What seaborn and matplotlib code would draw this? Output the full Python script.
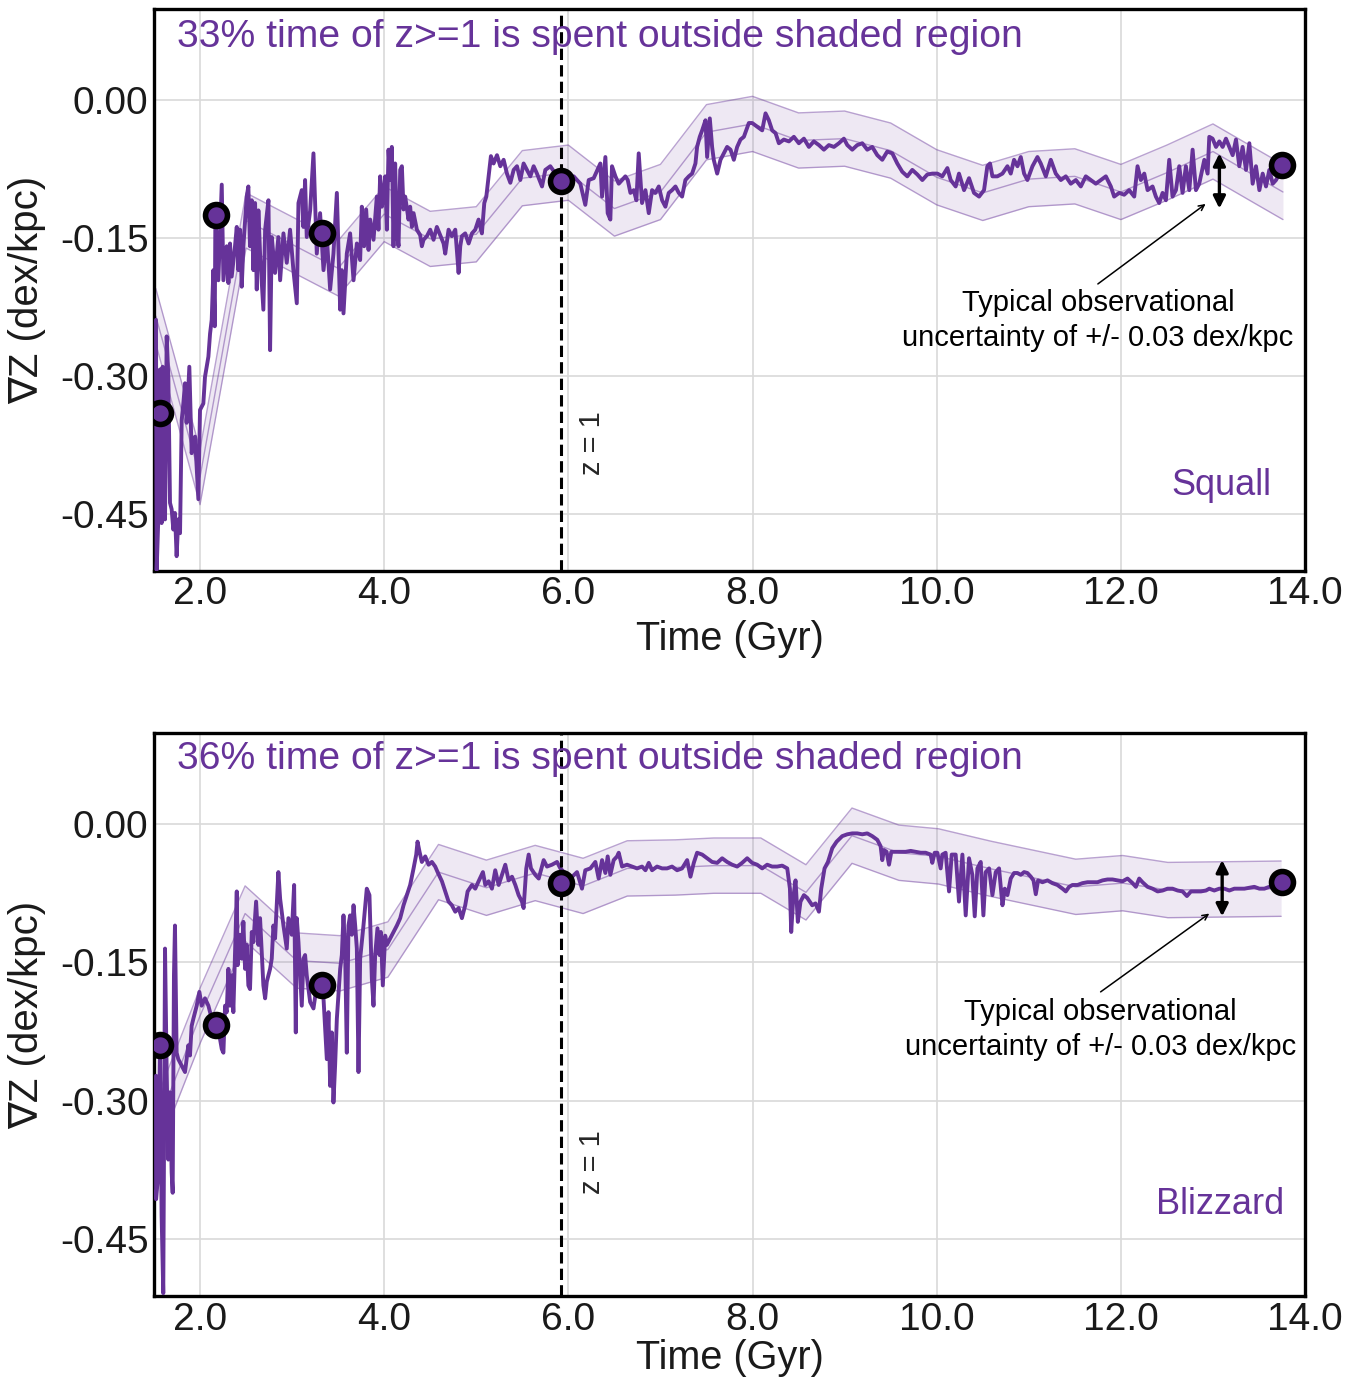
import numpy as np
import matplotlib
matplotlib.use("Agg")
import matplotlib.pyplot as plt
import seaborn as sns

# ---------------- data ----------------
# Squall (top panel): gradient history
squall_time = [
    1.522, 1.529, 1.547, 1.565, 1.583, 1.594, 1.620, 1.638, 1.656, 1.674, 1.692, 1.710, 1.728,
    1.746, 1.764, 1.783, 1.801, 1.819, 1.837, 1.855, 1.884, 1.909, 1.946, 1.982, 2.000, 2.036,
    2.054, 2.091, 2.109, 2.127, 2.145, 2.160, 2.167, 2.199, 2.236, 2.254, 2.290, 2.308, 2.326,
    2.344, 2.380, 2.399, 2.417, 2.435, 2.453, 2.471, 2.507, 2.525, 2.543, 2.562, 2.580, 2.598,
    2.616, 2.634, 2.652, 2.688, 2.707, 2.743, 2.761, 2.779, 2.815, 2.851, 2.870, 2.906, 2.942,
    2.978, 3.014, 3.051, 3.069, 3.105, 3.123, 3.141, 3.159, 3.196, 3.232, 3.268, 3.304, 3.341,
    3.377, 3.413, 3.449, 3.486, 3.522, 3.540, 3.558, 3.594, 3.630, 3.667, 3.703,
    3.739, 3.757, 3.782, 3.804, 3.830, 3.848, 3.884, 3.920, 3.938, 3.956, 3.975, 3.993, 4.011,
    4.029, 4.047, 4.065, 4.083, 4.101, 4.119, 4.138, 4.156, 4.174, 4.192, 4.210, 4.228, 4.264,
    4.282, 4.301, 4.319, 4.355, 4.391, 4.409, 4.427, 4.464, 4.500, 4.536, 4.572, 4.609, 4.645,
    4.663, 4.699, 4.735, 4.772, 4.808, 4.826, 4.844, 4.880, 4.917, 4.953, 4.989, 5.025, 5.043,
    5.061, 5.087, 5.109, 5.134, 5.159, 5.188, 5.225, 5.261, 5.297, 5.333, 5.370, 5.406, 5.442,
    5.478, 5.514, 5.551, 5.587, 5.623, 5.659, 5.714, 5.750, 5.804, 5.859, 5.913,
    6.000, 6.058, 6.130, 6.184, 6.221, 6.275, 6.347, 6.366, 6.402, 6.427, 6.456, 6.474, 6.511,
    6.547, 6.583, 6.619, 6.645, 6.674, 6.710, 6.739, 6.764, 6.800, 6.837, 6.873, 6.909, 6.945,
    6.982, 7.018, 7.054, 7.090, 7.126, 7.163, 7.199, 7.235, 7.271, 7.308, 7.344, 7.380, 7.398,
    7.427, 7.453, 7.489, 7.507, 7.536, 7.561, 7.579, 7.616, 7.652, 7.688, 7.724, 7.761, 7.797,
    7.833, 7.869, 7.906, 7.960, 7.996, 8.050, 8.105, 8.141, 8.177, 8.213, 8.250, 8.286, 8.340,
    8.395, 8.449, 8.503, 8.558, 8.612, 8.666, 8.721, 8.775, 8.829, 8.884, 8.938, 8.992, 9.029,
    9.083, 9.137, 9.192, 9.246, 9.300, 9.355, 9.409, 9.463, 9.518, 9.572, 9.626, 9.681, 9.735,
    9.790, 9.844, 9.898, 9.953, 10.007, 10.061, 10.116, 10.152, 10.206, 10.242, 10.297, 10.351,
    10.405, 10.460, 10.514, 10.550, 10.579, 10.605, 10.659,
    10.714, 10.768, 10.804, 10.840, 10.877, 10.913, 10.949, 10.985, 11.040, 11.094, 11.130,
    11.185, 11.239, 11.293, 11.348, 11.402, 11.456, 11.511, 11.565, 11.619, 11.674, 11.728,
    11.782, 11.837, 11.891, 11.927, 11.982, 12.036, 12.090, 12.145, 12.181, 12.217, 12.254,
    12.290, 12.344, 12.380, 12.416, 12.453, 12.489, 12.525, 12.561, 12.598, 12.634, 12.670,
    12.706, 12.743, 12.779, 12.815, 12.851, 12.906, 12.942, 12.960, 12.996, 13.033, 13.069,
    13.105, 13.141, 13.178, 13.214, 13.250, 13.286, 13.322, 13.359, 13.395, 13.431, 13.467,
    13.504, 13.540, 13.576, 13.612, 13.649, 13.685, 13.721, 13.757,
]
squall_grad = [
    -0.239, -0.511, -0.456, -0.293, -0.460, -0.290, -0.456, -0.257, -0.301, -0.438, -0.445, -0.467, -0.449,
    -0.496, -0.456, -0.471, -0.348, -0.330, -0.308, -0.351, -0.290, -0.384, -0.366, -0.434, -0.337, -0.330,
    -0.301, -0.279, -0.254, -0.239, -0.185, -0.246, -0.123, -0.196, -0.092, -0.196, -0.159, -0.199, -0.156,
    -0.192, -0.159, -0.138, -0.185, -0.141, -0.203, -0.159, -0.105, -0.094, -0.159, -0.109, -0.185, -0.112,
    -0.206, -0.120, -0.167, -0.228, -0.141, -0.109, -0.272, -0.149, -0.188, -0.149, -0.196, -0.145, -0.177,
    -0.141, -0.185, -0.221, -0.112, -0.098, -0.138, -0.087, -0.149, -0.120, -0.058, -0.167, -0.123, -0.185,
    -0.149, -0.206, -0.167, -0.101, -0.228, -0.185, -0.232, -0.167, -0.145, -0.196, -0.156,
    -0.174, -0.116, -0.159, -0.119, -0.163, -0.130, -0.152, -0.105, -0.141, -0.083, -0.116, -0.101, -0.083,
    -0.141, -0.054, -0.087, -0.051, -0.159, -0.069, -0.145, -0.159, -0.076, -0.072, -0.119, -0.105, -0.130,
    -0.116, -0.138, -0.123, -0.141, -0.147, -0.159, -0.152, -0.148, -0.141, -0.152, -0.138, -0.147, -0.156,
    -0.167, -0.141, -0.148, -0.141, -0.188, -0.159, -0.148, -0.145, -0.156, -0.145, -0.141, -0.130, -0.138,
    -0.145, -0.112, -0.105, -0.083, -0.061, -0.069, -0.060, -0.072, -0.065, -0.080, -0.090, -0.076, -0.072,
    -0.087, -0.069, -0.076, -0.083, -0.072, -0.080, -0.094, -0.076, -0.072, -0.080, -0.087,
    -0.087, -0.083, -0.091, -0.114, -0.087, -0.085, -0.069, -0.105, -0.062, -0.123, -0.130, -0.072, -0.083,
    -0.091, -0.087, -0.083, -0.087, -0.101, -0.098, -0.109, -0.058, -0.112, -0.098, -0.123, -0.098, -0.101,
    -0.094, -0.109, -0.116, -0.101, -0.098, -0.094, -0.101, -0.105, -0.087, -0.083, -0.080, -0.069, -0.051,
    -0.040, -0.033, -0.022, -0.062, -0.020, -0.051, -0.065, -0.080, -0.065, -0.058, -0.051, -0.054, -0.065,
    -0.051, -0.043, -0.040, -0.025, -0.025, -0.029, -0.033, -0.0145, -0.022, -0.033, -0.036, -0.047, -0.043,
    -0.045, -0.040, -0.047, -0.042, -0.051, -0.045, -0.049, -0.054, -0.049, -0.051, -0.047, -0.042, -0.049,
    -0.054, -0.049, -0.047, -0.054, -0.051, -0.060, -0.065, -0.056, -0.058, -0.069, -0.078, -0.083, -0.076,
    -0.081, -0.087, -0.081, -0.080, -0.080, -0.083, -0.074, -0.087, -0.094, -0.080, -0.098, -0.085,
    -0.101, -0.105, -0.098, -0.072, -0.069, -0.083, -0.083,
    -0.080, -0.072, -0.080, -0.065, -0.072, -0.062, -0.080, -0.087, -0.072, -0.062, -0.069,
    -0.083, -0.065, -0.080, -0.087, -0.083, -0.091, -0.087, -0.094, -0.083, -0.087, -0.091,
    -0.087, -0.083, -0.094, -0.105, -0.101, -0.103, -0.098, -0.105, -0.072, -0.087, -0.080,
    -0.098, -0.094, -0.105, -0.112, -0.101, -0.109, -0.065, -0.105, -0.098, -0.072, -0.101,
    -0.072, -0.098, -0.054, -0.098, -0.091, -0.065, -0.080, -0.040, -0.042, -0.051, -0.045,
    -0.051, -0.042, -0.051, -0.060, -0.043, -0.072, -0.051, -0.076, -0.047, -0.091, -0.072,
    -0.098, -0.080, -0.094, -0.076, -0.091, -0.087, -0.080, -0.072,
]
squall_band_time = [1.52, 2.0, 2.5, 3.0, 3.5, 4.0, 4.5, 5.0, 5.5, 6.0, 6.5, 7.0, 7.5, 8.0,
                    8.5, 9.0, 9.5, 10.0, 10.5, 11.0, 11.5, 12.0, 12.5, 13.0, 13.5, 13.76]
squall_band_mid = [-0.235, -0.410, -0.131, -0.157, -0.183, -0.124, -0.151, -0.146, -0.085, -0.079,
                   -0.118, -0.100, -0.035, -0.026, -0.044, -0.042, -0.055, -0.084, -0.101, -0.086,
                   -0.083, -0.100, -0.079, -0.056, -0.085, -0.100]
squall_marker_time = [1.565, 2.174, 3.320, 5.920, 13.750]
squall_marker_grad = [-0.340, -0.125, -0.145, -0.088, -0.071]

# Blizzard (bottom panel): gradient history
blizzard_time = [
    1.522, 1.523, 1.547, 1.565, 1.583, 1.601, 1.620, 1.638, 1.656, 1.674, 1.692, 1.703, 1.717,
    1.728, 1.746, 1.764, 1.801, 1.837, 1.873, 1.891, 1.909, 1.928, 1.964, 1.993, 2.018, 2.054,
    2.091, 2.127, 2.163, 2.217, 2.236, 2.254, 2.272, 2.290, 2.308, 2.326, 2.344, 2.362, 2.380,
    2.399, 2.409, 2.435, 2.453, 2.471, 2.489, 2.507, 2.525, 2.543, 2.562, 2.580, 2.609, 2.634,
    2.652, 2.688, 2.707, 2.725, 2.761, 2.779, 2.797, 2.815, 2.851, 2.870, 2.906, 2.942, 2.960,
    2.996, 3.022, 3.040, 3.051, 3.069, 3.105, 3.123, 3.141, 3.159, 3.196, 3.232, 3.268, 3.341,
    3.377, 3.395, 3.413, 3.431, 3.449, 3.467, 3.486, 3.522, 3.540, 3.558, 3.576, 3.594, 3.612,
    3.630, 3.649, 3.667, 3.685, 3.703, 3.721, 3.739,
    3.775, 3.811, 3.840, 3.866, 3.884, 3.902, 3.927, 3.949, 3.964, 3.985, 4.011, 4.029, 4.065,
    4.101, 4.138, 4.174, 4.210, 4.246, 4.282, 4.319, 4.348, 4.362, 4.384, 4.409, 4.446, 4.482,
    4.518, 4.554, 4.580, 4.627, 4.663, 4.699, 4.735, 4.772, 4.808, 4.844, 4.880, 4.906, 4.953,
    4.989, 5.025, 5.072, 5.098, 5.134, 5.170, 5.206, 5.243, 5.279, 5.315, 5.351, 5.388, 5.424,
    5.460, 5.496, 5.514, 5.543, 5.569, 5.594, 5.641, 5.678, 5.732, 5.768, 5.822, 5.877, 5.913,
    6.021, 6.094, 6.148, 6.184, 6.239, 6.293, 6.329, 6.366, 6.402, 6.427, 6.456, 6.492, 6.529,
    6.547, 6.583, 6.637, 6.692, 6.746, 6.800, 6.837, 6.873, 6.909, 6.963, 7.018, 7.072, 7.126,
    7.181, 7.235, 7.290, 7.326, 7.362, 7.398, 7.453, 7.507, 7.561, 7.616, 7.670, 7.724, 7.779,
    7.833, 7.887, 7.942, 7.996, 8.050, 8.105, 8.159, 8.213, 8.268, 8.322, 8.377, 8.406, 8.420,
    8.442, 8.467, 8.492, 8.521, 8.558, 8.594, 8.648, 8.684, 8.721, 8.746, 8.782, 8.819, 8.866,
    8.913, 8.974, 9.029, 9.083, 9.137, 9.192, 9.246, 9.300, 9.355, 9.391, 9.409, 9.427, 9.456,
    9.482, 9.507, 9.554, 9.608, 9.663, 9.717, 9.771, 9.826, 9.880, 9.934, 9.952, 9.978, 10.007,
    10.043, 10.061, 10.097, 10.134, 10.163, 10.206, 10.242, 10.279, 10.315, 10.351, 10.387,
    10.413, 10.442, 10.478, 10.507, 10.532, 10.569, 10.605, 10.641, 10.677,
    10.714, 10.739, 10.768, 10.804, 10.840, 10.877, 10.913, 10.949, 10.985, 11.022, 11.051,
    11.076, 11.101, 11.148, 11.203, 11.257, 11.311, 11.366, 11.402, 11.438, 11.474, 11.529,
    11.583, 11.638, 11.692, 11.746, 11.801, 11.855, 11.909, 11.964, 12.018, 12.072, 12.127,
    12.163, 12.199, 12.235, 12.290, 12.344, 12.399, 12.453, 12.507, 12.561, 12.616, 12.670,
    12.717, 12.761, 12.815, 12.869, 12.924, 12.960, 13.014, 13.069, 13.123, 13.178, 13.232,
    13.286, 13.341, 13.395, 13.449, 13.504, 13.558, 13.612, 13.667, 13.721,
]
blizzard_grad = [
    -0.273, -0.407, -0.378, -0.240, -0.425, -0.509, -0.135, -0.269, -0.364, -0.291, -0.378, -0.400, -0.164,
    -0.110, -0.248, -0.255, -0.262, -0.269, -0.240, -0.251, -0.219, -0.211, -0.197, -0.182, -0.197, -0.189,
    -0.197, -0.211, -0.219, -0.233, -0.244, -0.248, -0.197, -0.204, -0.157, -0.197, -0.164, -0.204, -0.142,
    -0.073, -0.153, -0.120, -0.146, -0.106, -0.157, -0.131, -0.175, -0.179, -0.117, -0.128, -0.084, -0.131,
    -0.102, -0.175, -0.189, -0.171, -0.157, -0.146, -0.110, -0.124, -0.052, -0.081, -0.110, -0.135, -0.102,
    -0.120, -0.066, -0.226, -0.102, -0.128, -0.197, -0.146, -0.142, -0.164, -0.193, -0.200, -0.175, -0.189,
    -0.255, -0.204, -0.284, -0.226, -0.302, -0.262, -0.211, -0.157, -0.142, -0.099, -0.139, -0.248, -0.110,
    -0.099, -0.120, -0.088, -0.110, -0.135, -0.269, -0.146,
    -0.110, -0.070, -0.077, -0.168, -0.197, -0.142, -0.113, -0.142, -0.117, -0.175, -0.121, -0.131, -0.124,
    -0.117, -0.110, -0.102, -0.088, -0.077, -0.066, -0.048, -0.033, -0.019, -0.030, -0.041, -0.035, -0.044,
    -0.041, -0.046, -0.052, -0.062, -0.073, -0.084, -0.088, -0.095, -0.091, -0.102, -0.088, -0.073, -0.066,
    -0.070, -0.062, -0.052, -0.066, -0.062, -0.070, -0.050, -0.066, -0.055, -0.044, -0.061, -0.057, -0.066,
    -0.077, -0.084, -0.091, -0.048, -0.033, -0.048, -0.055, -0.059, -0.039, -0.046, -0.044, -0.041, -0.048,
    -0.059, -0.052, -0.070, -0.050, -0.048, -0.041, -0.059, -0.039, -0.053, -0.035, -0.055, -0.039, -0.035,
    -0.031, -0.046, -0.044, -0.046, -0.048, -0.046, -0.050, -0.042, -0.050, -0.046, -0.048, -0.048, -0.046,
    -0.050, -0.048, -0.039, -0.057, -0.042, -0.031, -0.033, -0.037, -0.041, -0.042, -0.037, -0.041, -0.044,
    -0.046, -0.042, -0.037, -0.042, -0.044, -0.048, -0.044, -0.046, -0.046, -0.045, -0.048, -0.070, -0.117,
    -0.080, -0.061, -0.106, -0.084, -0.077, -0.080, -0.088, -0.086, -0.095, -0.070, -0.048, -0.041, -0.026,
    -0.019, -0.013, -0.011, -0.010, -0.010, -0.011, -0.010, -0.013, -0.017, -0.024, -0.039, -0.028, -0.030,
    -0.044, -0.030, -0.030, -0.030, -0.030, -0.029, -0.030, -0.031, -0.031, -0.033, -0.042, -0.031, -0.031,
    -0.048, -0.033, -0.031, -0.073, -0.033, -0.033, -0.084, -0.033, -0.099, -0.037, -0.055,
    -0.100, -0.048, -0.041, -0.099, -0.052, -0.048, -0.077, -0.052, -0.048,
    -0.088, -0.070, -0.077, -0.059, -0.053, -0.053, -0.055, -0.052, -0.053, -0.057, -0.061,
    -0.076, -0.061, -0.063, -0.061, -0.064, -0.066, -0.070, -0.073, -0.068, -0.066, -0.066,
    -0.064, -0.063, -0.063, -0.063, -0.061, -0.060, -0.060, -0.061, -0.062, -0.059, -0.064,
    -0.068, -0.059, -0.063, -0.068, -0.070, -0.073, -0.072, -0.070, -0.070, -0.072, -0.073,
    -0.078, -0.073, -0.073, -0.073, -0.072, -0.070, -0.072, -0.070, -0.070, -0.072, -0.070,
    -0.070, -0.070, -0.069, -0.068, -0.070, -0.070, -0.068, -0.065, -0.064,
]
blizzard_band_time = [1.52, 2.0, 2.49, 3.05, 3.52, 4.04, 4.59, 5.11, 5.64, 6.16, 6.64, 7.16,
                      7.58, 8.09, 8.58, 9.08, 9.59, 10.02, 10.59, 11.51, 12.02, 12.51, 13.74]
blizzard_band_mid = [-0.330, -0.208, -0.097, -0.148, -0.151, -0.136, -0.052, -0.069, -0.053,
                     -0.067, -0.048, -0.047, -0.045, -0.045, -0.074, -0.0125, -0.031, -0.035,
                     -0.0485, -0.068, -0.064, -0.0715, -0.070]
blizzard_marker_time = [1.565, 2.174, 3.320, 5.920, 13.750]
blizzard_marker_grad = [-0.240, -0.218, -0.174, -0.064, -0.063]

uncertainty = 0.03
z1_time = 5.92
x_ticks = [2.0, 4.0, 6.0, 8.0, 10.0, 12.0, 14.0]
x_tick_labels = ["2.0", "4.0", "6.0", "8.0", "10.0", "12.0", "14.0"]
y_ticks = [0.0, -0.15, -0.30, -0.45]
y_tick_labels = ["0.00", "-0.15", "-0.30", "-0.45"]
titles = ["33% time of z>=1 is spent outside shaded region",
          "36% time of z>=1 is spent outside shaded region"]
names = ["Squall", "Blizzard"]

# ---------------- style ----------------
PURPLE = "#663399"
sns.set_style("whitegrid")
plt.rcParams["font.family"] = ["Liberation Sans", "DejaVu Sans"]
plt.rcParams["axes.unicode_minus"] = False

fig = plt.figure(figsize=(13.59, 13.79), dpi=100)
ax_top = fig.add_axes([0.1133, 0.586, 0.847, 0.4075])
ax_bot = fig.add_axes([0.1133, 0.0602, 0.847, 0.4083])

panels = [
    dict(ax=ax_top, t=squall_time, g=squall_grad, bt=squall_band_time, bm=squall_band_mid,
         mt=squall_marker_time, mg=squall_marker_grad, title=titles[0], name=names[0],
         name_xy=(13.63, -0.419), title_y=0.069, z1_y=-0.373, xlabel_y=-0.088,
         arr_x=13.07, arr_y=(-0.058, -0.118), ptr_tail=(11.75, -0.200), ptr_head=(12.92, -0.113),
         txt_xy=(11.75, -0.206)),
    dict(ax=ax_bot, t=blizzard_time, g=blizzard_grad, bt=blizzard_band_time, bm=blizzard_band_mid,
         mt=blizzard_marker_time, mg=blizzard_marker_grad, title=titles[1], name=names[1],
         name_xy=(13.77, -0.413), title_y=0.071, z1_y=-0.367, xlabel_y=-0.076,
         arr_x=13.10, arr_y=(-0.039, -0.100), ptr_tail=(11.78, -0.182), ptr_head=(12.96, -0.097),
         txt_xy=(11.78, -0.189)),
]

for p in panels:
    ax = p["ax"]
    bt = np.array(p["bt"])
    bm = np.array(p["bm"])
    lo = bm - uncertainty
    hi = bm + uncertainty
    ax.fill_between(bt, lo, hi, color=PURPLE, alpha=0.11, lw=0, zorder=1)
    for yy in (lo, bm, hi):
        sns.lineplot(x=bt, y=yy, ax=ax, color=PURPLE, lw=1.0, alpha=0.45,
                     estimator=None, sort=False, zorder=2)
    sns.lineplot(x=p["t"], y=p["g"], ax=ax, color=PURPLE, lw=2.8,
                 estimator=None, sort=False, zorder=3)
    ax.axvline(z1_time, color="black", ls=(0, (3.7, 1.7)), lw=2.2, zorder=4)
    sns.scatterplot(x=p["mt"], y=p["mg"], ax=ax, s=250, color=PURPLE,
                    edgecolor="black", linewidth=4.0, zorder=6)

    ax.set_xlim(1.5, 14.0)
    ax.set_ylim(-0.512, 0.099)
    ax.set_xticks(x_ticks)
    ax.set_xticklabels(x_tick_labels)
    ax.set_yticks(y_ticks)
    ax.set_yticklabels(y_tick_labels)
    ax.tick_params(axis="both", labelsize=28, length=0, pad=4, labelcolor="#1a1a1a")
    ax.grid(True, color="#d9d9d9", lw=1.2)
    for s in ax.spines.values():
        s.set_color("black")
        s.set_linewidth(2.4)
    ax.set_xlabel("Time (Gyr)", fontsize=28.5, color="#1a1a1a")
    ax.set_ylabel("\u2207Z (dex/kpc)", fontsize=29, color="#1a1a1a")
    ax.xaxis.set_label_coords(0.5, p["xlabel_y"])
    ax.yaxis.set_label_coords(-0.094, 0.5)

    ax.text(1.75, p["title_y"], p["title"], ha="left", va="center", fontsize=28.2,
            color=PURPLE, zorder=7)
    ax.text(p["name_xy"][0], p["name_xy"][1], p["name"], ha="right", va="center",
            fontsize=26, color=PURPLE)
    ax.text(6.26, p["z1_y"], "z = 1", rotation=90, ha="center", va="center", fontsize=21)

    ax.annotate("", xy=(p["arr_x"], p["arr_y"][0]), xytext=(p["arr_x"], p["arr_y"][1]),
                arrowprops=dict(arrowstyle="<|-|>", color="black", lw=2.4,
                                mutation_scale=18, shrinkA=0, shrinkB=0), zorder=7)
    ax.annotate("", xy=p["ptr_head"], xytext=p["ptr_tail"],
                arrowprops=dict(arrowstyle="->", color="black", lw=1.1,
                                shrinkA=0, shrinkB=0), zorder=7)
    ax.text(p["txt_xy"][0], p["txt_xy"][1],
            "Typical observational\nuncertainty of +/- 0.03 dex/kpc",
            ha="center", va="top", fontsize=21, linespacing=1.3, color="black")

fig.savefig("out.png", dpi=100)
